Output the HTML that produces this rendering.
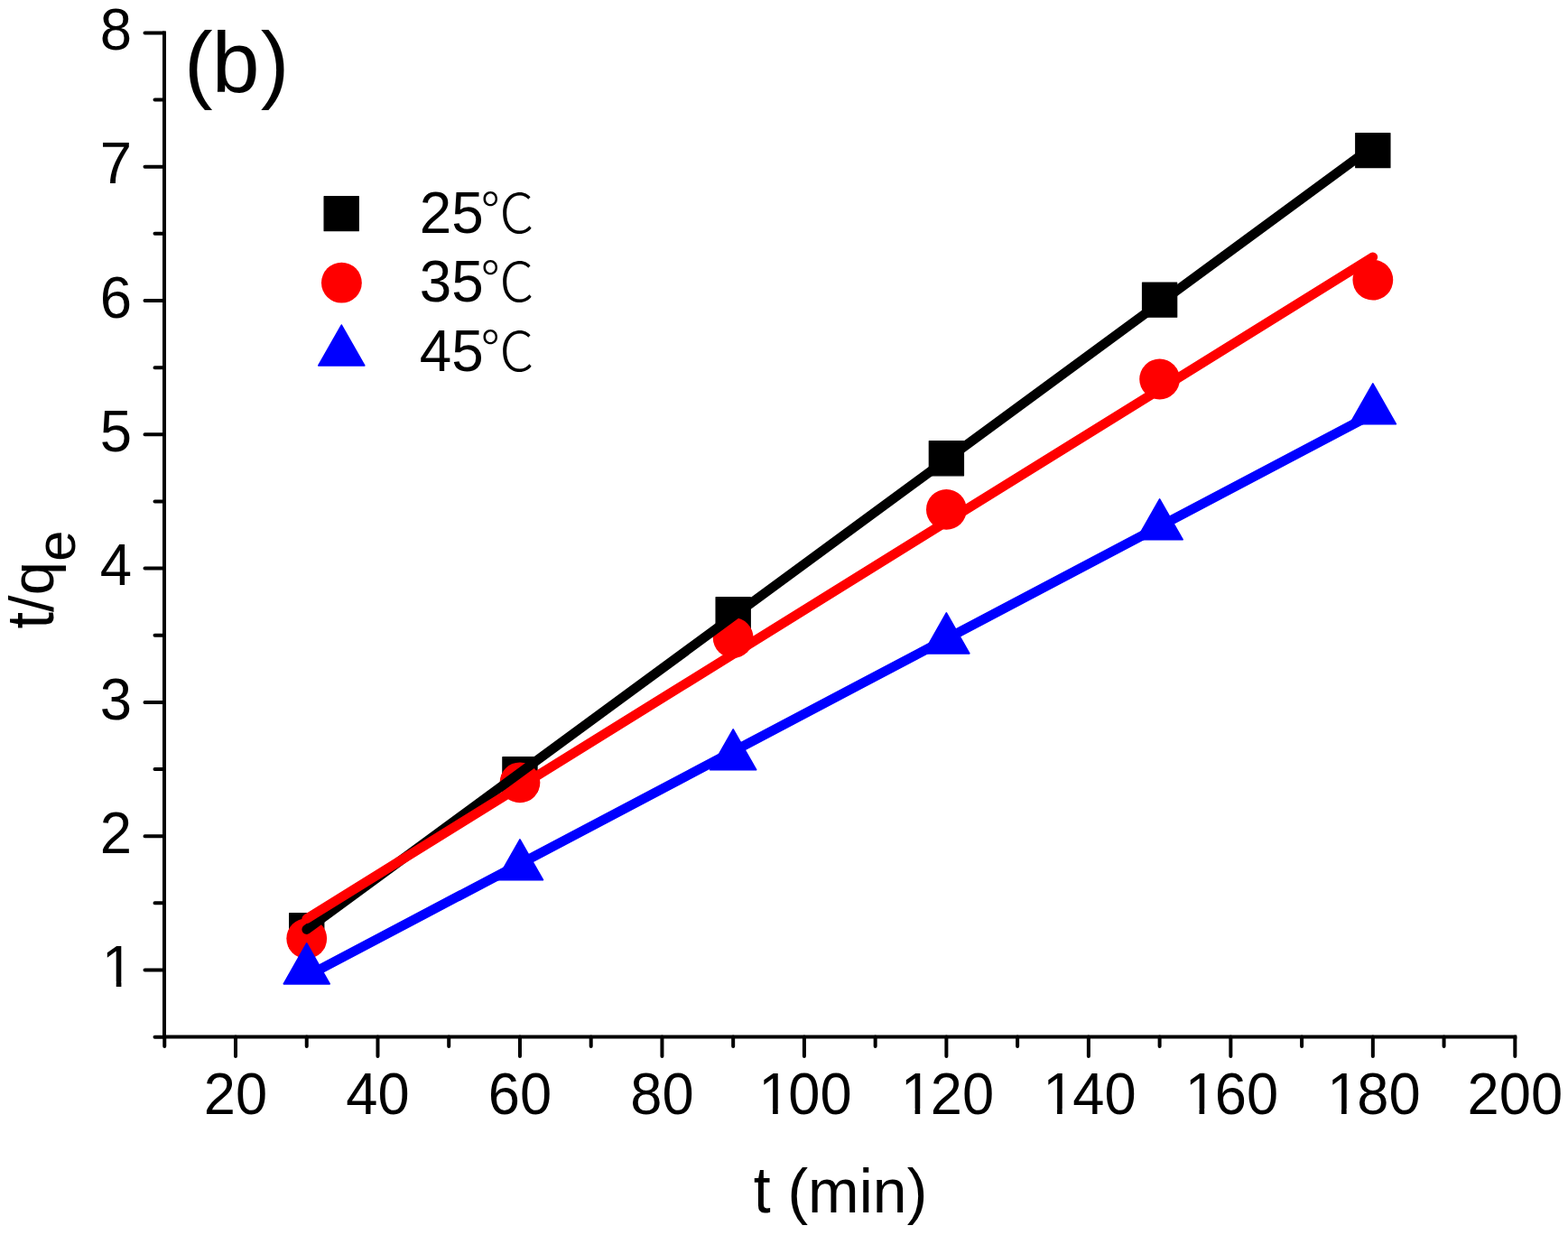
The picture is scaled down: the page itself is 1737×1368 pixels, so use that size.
<!DOCTYPE html>
<html><head><meta charset="utf-8"><title>t/qe vs t</title>
<style>html,body{margin:0;padding:0;background:#fff;overflow:hidden}svg{display:block}</style>
</head><body>
<svg width="1737" height="1368" viewBox="0 0 1737 1368">
<rect width="1737" height="1368" fill="#fff"/>
<path d="M160.50 1074.50H182.0 M160.50 926.20H182.0 M160.50 777.90H182.0 M160.50 629.60H182.0 M160.50 481.30H182.0 M160.50 333.00H182.0 M160.50 184.70H182.0 M160.50 36.40H182.0 M171.50 1148.65H182.0 M171.50 1000.35H182.0 M171.50 852.05H182.0 M171.50 703.75H182.0 M171.50 555.45H182.0 M171.50 407.15H182.0 M171.50 258.85H182.0 M171.50 110.55H182.0 M261.00 1148.5V1170.00 M418.48 1148.5V1170.00 M575.96 1148.5V1170.00 M733.44 1148.5V1170.00 M890.92 1148.5V1170.00 M1048.40 1148.5V1170.00 M1205.88 1148.5V1170.00 M1363.36 1148.5V1170.00 M1520.84 1148.5V1170.00 M1678.32 1148.5V1170.00 M182.26 1148.5V1159.00 M339.74 1148.5V1159.00 M497.22 1148.5V1159.00 M654.70 1148.5V1159.00 M812.18 1148.5V1159.00 M969.66 1148.5V1159.00 M1127.14 1148.5V1159.00 M1284.62 1148.5V1159.00 M1442.10 1148.5V1159.00 M1599.58 1148.5V1159.00" stroke="#000" stroke-width="4.0" stroke-linecap="round" fill="none"/>
<path d="M182.0 36.40V1148.5H1678.32" stroke="#000" stroke-width="4.0" stroke-linecap="square" stroke-linejoin="miter" fill="none"/>
<defs><clipPath id="nofoot"><path clip-rule="evenodd" d="M0 0H1737V1368H0Z M116.65 1087.60H128.75V1095.11H116.65Z M134.40 1087.60H146.50V1095.11H134.40Z M844.06 1228.32H856.12V1235.80H844.06Z M861.75 1228.32H873.81V1235.80H861.75Z M1001.54 1228.32H1013.60V1235.80H1001.54Z M1019.23 1228.32H1031.29V1235.80H1019.23Z M1159.02 1228.32H1171.08V1235.80H1159.02Z M1176.71 1228.32H1188.77V1235.80H1176.71Z M1316.50 1228.32H1328.56V1235.80H1316.50Z M1334.19 1228.32H1346.25V1235.80H1334.19Z M1473.98 1228.32H1486.04V1235.80H1473.98Z M1491.67 1228.32H1503.73V1235.80H1491.67Z"/></clipPath></defs>
<g clip-path="url(#nofoot)" font-family="'Liberation Sans', Arial, sans-serif" fill="#000"><g font-size="63.5"><text transform="translate(110.68 1093.20) scale(1 1.025)" dx="2.16">1</text><text transform="translate(110.68 944.90) scale(1 1.025)">2</text><text transform="translate(110.68 796.60) scale(1 1.025)">3</text><text transform="translate(110.68 648.30) scale(1 1.025)">4</text><text transform="translate(110.68 500.00) scale(1 1.025)">5</text><text transform="translate(110.68 351.70) scale(1 1.025)">6</text><text transform="translate(110.68 203.40) scale(1 1.025)">7</text><text transform="translate(110.68 55.10) scale(1 1.025)">8</text></g><g font-size="63.3"><text transform="translate(225.79 1233.90) scale(1 1.025)">20</text><text transform="translate(383.27 1233.90) scale(1 1.025)">40</text><text transform="translate(540.75 1233.90) scale(1 1.025)">60</text><text transform="translate(698.23 1233.90) scale(1 1.025)">80</text><text transform="translate(838.11 1233.90) scale(1 1.025)" dx="2.15 -2.15 0.00">100</text><text transform="translate(995.59 1233.90) scale(1 1.025)" dx="2.15 -2.15 0.00">120</text><text transform="translate(1153.07 1233.90) scale(1 1.025)" dx="2.15 -2.15 0.00">140</text><text transform="translate(1310.55 1233.90) scale(1 1.025)" dx="2.15 -2.15 0.00">160</text><text transform="translate(1468.03 1233.90) scale(1 1.025)" dx="2.15 -2.15 0.00">180</text><text transform="translate(1625.51 1233.90) scale(1 1.025)">200</text></g></g>
<g font-family="'Liberation Sans', Arial, sans-serif" font-size="68"><text transform="translate(834.66 1342.8) scale(1 1.07)">t</text><text transform="translate(872.46 1342.8) scale(1 1.001)">(min)</text></g>
<g transform="translate(59.3 696.6) rotate(-90)" font-family="'Liberation Sans', Arial, sans-serif" font-size="67"><text transform="scale(1 1.118)">t</text><text transform="translate(18.62 0) scale(1 1.035)">/</text><text x="37.24">q<tspan font-size="62" dy="24">e</tspan></text></g>
<text transform="translate(204 102) scale(1 1.001)" font-family="'Liberation Sans', Arial, sans-serif" font-size="95" dx="0 -0.8 1.2">(b)</text>
<rect x="320.64" y="1011.70" width="38.20" height="38.20" fill="#000" stroke="#000" stroke-width="1.2" stroke-linejoin="round"/><rect x="556.86" y="838.70" width="38.20" height="38.20" fill="#000" stroke="#000" stroke-width="1.2" stroke-linejoin="round"/><rect x="793.08" y="661.60" width="38.20" height="38.20" fill="#000" stroke="#000" stroke-width="1.2" stroke-linejoin="round"/><rect x="1029.30" y="488.60" width="38.20" height="38.20" fill="#000" stroke="#000" stroke-width="1.2" stroke-linejoin="round"/><rect x="1265.52" y="313.00" width="38.20" height="38.20" fill="#000" stroke="#000" stroke-width="1.2" stroke-linejoin="round"/><rect x="1501.74" y="147.50" width="38.20" height="38.20" fill="#000" stroke="#000" stroke-width="1.2" stroke-linejoin="round"/><circle cx="339.74" cy="1039.60" r="22.4" fill="#f00"/><circle cx="575.96" cy="866.80" r="22.4" fill="#f00"/><circle cx="812.18" cy="706.50" r="22.4" fill="#f00"/><circle cx="1048.40" cy="564.40" r="22.4" fill="#f00"/><circle cx="1284.62" cy="420.00" r="22.4" fill="#f00"/><circle cx="1520.84" cy="310.10" r="22.4" fill="#f00"/><polygon points="339.74,1044.93 365.24,1089.83 314.24,1089.83" fill="#00f" stroke="#00f" stroke-width="1.6" stroke-linejoin="round"/><polygon points="575.96,929.83 601.46,974.73 550.46,974.73" fill="#00f" stroke="#00f" stroke-width="1.6" stroke-linejoin="round"/><polygon points="812.18,807.83 837.68,852.73 786.68,852.73" fill="#00f" stroke="#00f" stroke-width="1.6" stroke-linejoin="round"/><polygon points="1048.40,678.93 1073.90,723.83 1022.90,723.83" fill="#00f" stroke="#00f" stroke-width="1.6" stroke-linejoin="round"/><polygon points="1284.62,552.83 1310.12,597.73 1259.12,597.73" fill="#00f" stroke="#00f" stroke-width="1.6" stroke-linejoin="round"/><polygon points="1520.84,424.83 1546.34,469.73 1495.34,469.73" fill="#00f" stroke="#00f" stroke-width="1.6" stroke-linejoin="round"/>
<line x1="339.74" y1="1029.60" x2="1520.84" y2="162.30" stroke="#000" stroke-width="10.6" stroke-linecap="round"/>
<line x1="339.74" y1="1017.66" x2="1520.84" y2="284.80" stroke="#f00" stroke-width="10.6" stroke-linecap="round"/>
<line x1="339.74" y1="1081.39" x2="1520.84" y2="458.48" stroke="#00f" stroke-width="10.6" stroke-linecap="round"/>
<rect x="359.10" y="217.50" width="38.20" height="38.20" fill="#000" stroke="#000" stroke-width="1.2" stroke-linejoin="round"/><circle cx="378.40" cy="313.20" r="22.4" fill="#f00"/><polygon points="378.30,360.03 403.80,404.93 352.80,404.93" fill="#00f" stroke="#00f" stroke-width="1.6" stroke-linejoin="round"/>
<text transform="translate(464.8 258.00) scale(1 1.001)" font-family="'Liberation Sans', Arial, sans-serif" font-size="63.8">25<tspan font-family="'Liberation Sans', 'Noto Sans CJK SC', sans-serif" font-weight="300" font-size="60" dx="-3.8">℃</tspan></text><text transform="translate(464.8 334.30) scale(1 1.001)" font-family="'Liberation Sans', Arial, sans-serif" font-size="63.8">35<tspan font-family="'Liberation Sans', 'Noto Sans CJK SC', sans-serif" font-weight="300" font-size="60" dx="-3.8">℃</tspan></text><text transform="translate(464.8 410.60) scale(1 1.001)" font-family="'Liberation Sans', Arial, sans-serif" font-size="63.8">45<tspan font-family="'Liberation Sans', 'Noto Sans CJK SC', sans-serif" font-weight="300" font-size="60" dx="-3.8">℃</tspan></text>
</svg>
</body></html>
